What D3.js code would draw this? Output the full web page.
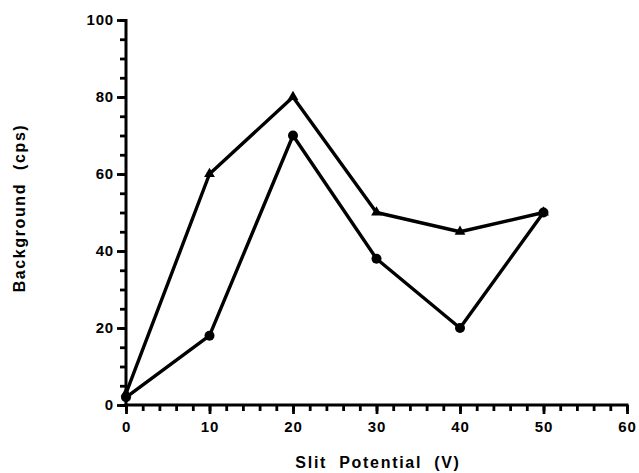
<!DOCTYPE html>
<html>
<head>
<meta charset="utf-8">
<script src="https://cdnjs.cloudflare.com/ajax/libs/d3/7.8.5/d3.min.js"></script>
<style>
  body { margin: 0; background: #fff; }
  svg text { font-family: "Liberation Sans", Arial, sans-serif; font-weight: bold; fill: #000; }
</style>
</head>
<body>
<script>
const WIDTH = 639;
const HEIGHT = 473;

// Data
const potentials = [0, 10, 20, 30, 40, 50];
const triangleSeries = [3, 60, 80, 50, 45, 50];
const circleSeries = [2, 18, 70, 38, 20, 50];
const xTicks = [0, 10, 20, 30, 40, 50, 60];
const yTicks = [0, 20, 40, 60, 80, 100];

const svg = d3.select("body").append("svg")
    .attr("width", WIDTH)
    .attr("height", HEIGHT);

const xScale = d3.scaleLinear().domain([0, 60]).range([126, 627]);
const yScale = d3.scaleLinear().domain([0, 100]).range([405, 20]);

// minor ticks (no labels, no domain)
const xMinor = d3.axisBottom(xScale).tickValues(d3.range(0, 61, 2)).tickSize(6).tickFormat("");
const yMinor = d3.axisLeft(yScale).tickValues(d3.range(0, 101, 5)).tickSize(6).tickFormat("");

svg.append("g").attr("class", "minor").attr("transform", "translate(0,405)").call(xMinor);
svg.append("g").attr("class", "minor").attr("transform", "translate(126,0)").call(yMinor);
svg.selectAll(".minor .domain").remove();

// major ticks with labels
const xAxis = d3.axisBottom(xScale).tickValues(xTicks).tickSize(9).tickPadding(7);
const yAxis = d3.axisLeft(yScale).tickValues(yTicks).tickSize(9).tickPadding(3);

svg.append("g").attr("id", "x-axis").attr("transform", "translate(0,405)").call(xAxis);
svg.append("g").attr("id", "y-axis").attr("transform", "translate(126,0)").call(yAxis);

// plain axis lines, no end caps
svg.select("#x-axis .domain").attr("d", "M124.5,0H628.5");
svg.select("#y-axis .domain").attr("d", "M0,406.5V19");
svg.selectAll(".domain").attr("stroke", "#000").attr("stroke-width", 3);
svg.selectAll(".tick line").attr("stroke", "#000").attr("stroke-width", 2.8);
svg.selectAll(".tick text")
    .style("font-size", "15px")
    .style("letter-spacing", "0.8px");

// series lines
const line = d3.line()
    .x((d, i) => xScale(potentials[i]))
    .y(d => yScale(d));

[triangleSeries, circleSeries].forEach(s => {
  svg.append("path")
      .datum(s)
      .attr("fill", "none")
      .attr("stroke", "#000")
      .attr("stroke-width", 3.4)
      .attr("stroke-linejoin", "round")
      .attr("d", line);
});

// markers
svg.selectAll(".tri")
    .data(triangleSeries)
    .enter().append("path")
      .attr("class", "tri")
      .attr("transform", (d, i) => "translate(" + xScale(potentials[i]) + "," + yScale(d) + ")")
      .attr("d", d3.symbol().type(d3.symbolTriangle).size(50))
      .attr("fill", "#000");

svg.selectAll(".dot")
    .data(circleSeries)
    .enter().append("circle")
      .attr("class", "dot")
      .attr("cx", (d, i) => xScale(potentials[i]))
      .attr("cy", d => yScale(d))
      .attr("r", 5)
      .attr("fill", "#000");

// axis titles
svg.append("text")
    .attr("x", 378)
    .attr("y", 468)
    .attr("text-anchor", "middle")
    .style("font-size", "16px")
    .style("letter-spacing", "1.7px")
    .style("word-spacing", "6px")
    .text("Slit Potential (V)");

svg.append("text")
    .attr("transform", "translate(25,208) rotate(-90)")
    .attr("text-anchor", "middle")
    .style("font-size", "16px")
    .style("letter-spacing", "1.6px")
    .style("word-spacing", "7px")
    .text("Background (cps)");
</script>
</body>
</html>
